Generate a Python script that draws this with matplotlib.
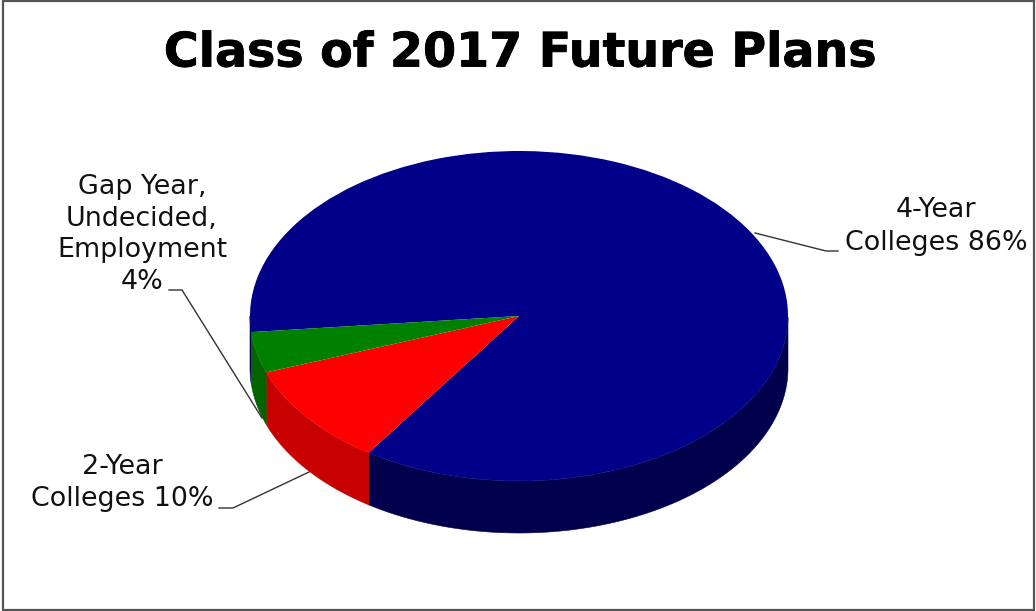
import numpy as np
import matplotlib
matplotlib.use("Agg")
import matplotlib.pyplot as plt
import matplotlib.patheffects as pe
from matplotlib.patches import Polygon, Rectangle

W, H = 1036, 611
TITLE = "Class of 2017 Future Plans"
categories = ["4-Year Colleges", "2-Year Colleges", "Gap Year, Undecided, Employment"]
shares = [86, 10, 4]
top_colors = ["#000088", "#FF0000", "#008000"]
side_colors = ["#00004D", "#C80000", "#006400"]

# Disc geometry, in pixels
CX, CY, RX, RY, DEPTH = 519, 316, 269, 165, 52
START = 185.6

fig = plt.figure(figsize=(W / 100, H / 100), dpi=100, facecolor="white")

# Pie axes: unit circle squashed into the tilted ellipse
ax = fig.add_axes([0, 0, 1, 1])
ax.pie(shares, colors=top_colors, startangle=START, counterclock=False, radius=1,
       wedgeprops=dict(linewidth=0, zorder=3))
ax.set_aspect("auto")
ax.set_xlim(-CX / RX, (W - CX) / RX)
ax.set_ylim(-(H - CY) / RY, CY / RY)
ax.axis("off")

# Rim of the disc: only the arcs facing the viewer are visible
drop = DEPTH / RY
edges = START - np.cumsum([0] + shares) * 3.6
for i, color in enumerate(side_colors):
    th = np.radians(np.linspace(edges[i], edges[i + 1], 720))
    front = np.sin(th) <= 0.0
    breaks = np.flatnonzero(np.diff(front.astype(int))) + 1
    for run, mask in zip(np.split(th, breaks), np.split(front, breaks)):
        if not mask[0] or run.size < 2:
            continue
        xs, ys = np.cos(run), np.sin(run)
        pts = np.r_[np.c_[xs, ys], np.c_[xs[::-1], ys[::-1] - drop]]
        ax.add_patch(Polygon(pts, closed=True, fc=color, ec=color, lw=0.4, zorder=2))

# Overlay in pixel coordinates for frame, title, labels and leader lines
ov = fig.add_axes([0, 0, 1, 1], facecolor="none")
ov.set_xlim(0, W)
ov.set_ylim(H, 0)
ov.axis("off")
ov.add_patch(Rectangle((3, 1), 1030.5, 608.5, fc="none", ec="#555555", lw=1.6))

ov.text(520, 54, TITLE, ha="center", va="center", fontsize=34.2,
        fontweight="bold", color="black", family="DejaVu Sans",
        path_effects=[pe.withStroke(linewidth=0.6, foreground="black")])

labels = [
    (936, 226.5, "4-Year\nColleges 86%", 1.32),
    (122, 482.5, "2-Year\nColleges 10%", 1.30),
    (142, 234.5, "Gap Year,\nUndecided,\nEmployment\n4%", 1.29),
]
for x, y, s, spacing in labels:
    ov.text(x, y, s, ha="center", va="center", fontsize=19.4, color="#111111",
            family="DejaVu Sans", linespacing=spacing)

leaders = [
    ([755, 826, 838], [233, 251, 251]),
    ([219, 233, 309], [508, 508, 472]),
    ([169, 182, 262], [290, 290, 418]),
]
for xs, ys in leaders:
    ov.plot(xs, ys, color="#333333", lw=1.0, solid_joinstyle="miter")

fig.savefig("out.png", dpi=100, facecolor="white")
